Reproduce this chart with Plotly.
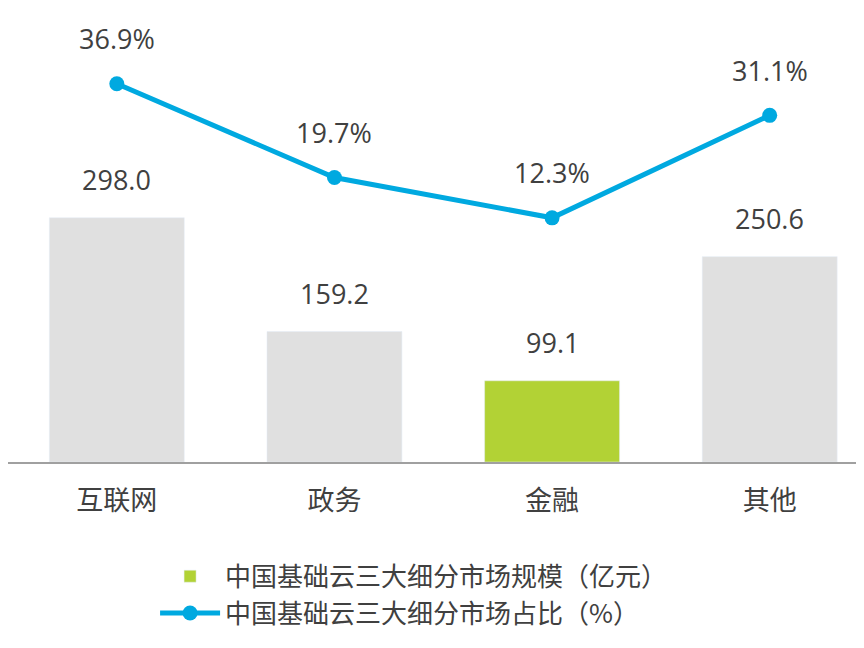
import plotly.graph_objects as go

# data
categories = ["互联网", "政务", "金融", "其他"]
market_size = [298.0, 159.2, 99.1, 250.6]
market_share = [36.9, 19.7, 12.3, 31.1]
bar_colors = ["#e0e0e0", "#e0e0e0", "#b2d235", "#e0e0e0"]

font_num = "Open Sans, Noto Sans CJK SC"

fig = go.Figure()
fig.add_trace(go.Bar(
    x=categories, y=market_size, showlegend=False,
    marker_color=bar_colors, width=0.62,
))
# legend entry for the bar series (green swatch)
fig.add_trace(go.Bar(x=[categories[0]], y=[None], name="中国基础云三大细分市场规模（亿元）",
                     marker_color="#b2d235"))
fig.add_trace(go.Scatter(
    x=categories, y=market_share, name="中国基础云三大细分市场占比（%）",
    yaxis="y2", mode="lines+markers",
    line=dict(color="#00a9e0", width=5), marker=dict(size=15, color="#00a9e0"),
))
for c, v in zip(categories, market_size):
    fig.add_annotation(x=c, y=v, text=f"{v:.1f}", showarrow=False, yshift=38,
                       font=dict(size=27, color="#404040", family=font_num))
for c, v in zip(categories, market_share):
    fig.add_annotation(x=c, y=v, yref="y2", text=f"{v:.1f}%", showarrow=False,
                       yshift=45, font=dict(size=27, color="#404040", family=font_num))

fig.update_layout(
    width=864, height=648, plot_bgcolor="white", paper_bgcolor="white",
    margin=dict(l=0, r=0, t=0, b=194),
    barmode="overlay", showlegend=True,
    xaxis=dict(range=[-0.5, 3.47], showline=True, linecolor="#a0a0a0", linewidth=1.5,
               ticks="", ticklabelstandoff=14,
               tickfont=dict(size=27, color="#404040", family="Noto Sans CJK SC")),
    yaxis=dict(range=[0, 554], visible=False),
    yaxis2=dict(range=[-32.5, 50.8], overlaying="y", visible=False),
    legend=dict(x=0.47, xanchor="center", y=-0.2, yanchor="top",
                font=dict(size=26, color="#404040", family="Noto Sans CJK SC"),
                itemwidth=60, tracegroupgap=8),
)
fig.write_html("out.html")
